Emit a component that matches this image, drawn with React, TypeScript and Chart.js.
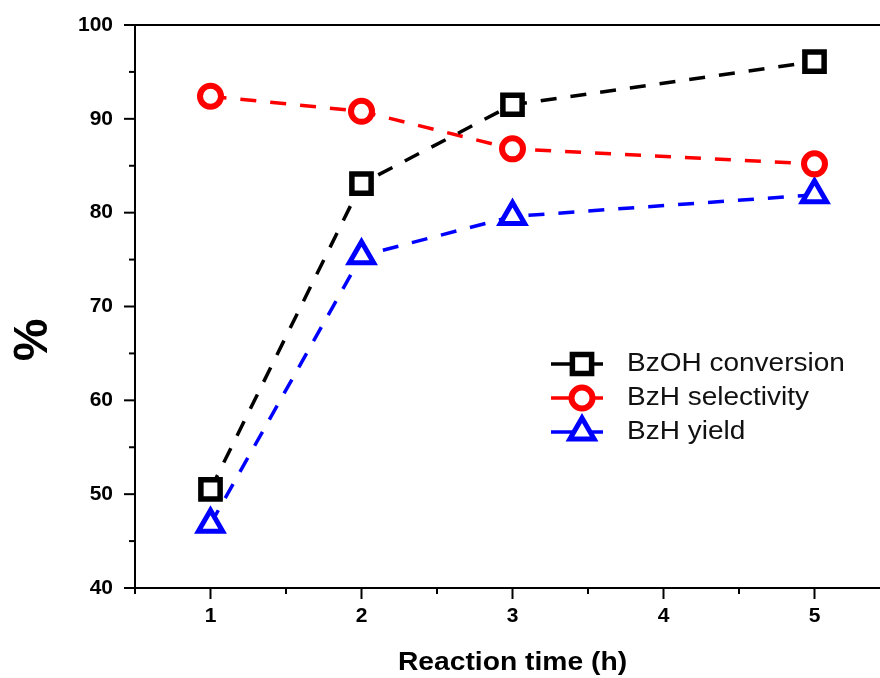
import React, { useEffect, useRef } from 'react';
import { Chart, registerables } from 'chart.js';

Chart.register(...registerables);

// ---- data ----
const times = [1, 2, 3, 5];
const conversion = [50.5, 83.1, 91.5, 96.1];
const selectivity = [92.4, 90.8, 86.8, 85.2];
const yieldValues = [46.8, 75.4, 79.6, 81.9];
const seriesNames = ['BzOH conversion', 'BzH selectivity', 'BzH yield'];
const seriesColors = ['#000000', '#ff0000', '#0000ff'];
const seriesShapes = ['rect', 'circle', 'triangle'];
const xTitle = 'Reaction time (h)';
const yTitle = '%';
const xRange = [0.5, 5.5];
const yRange = [40, 100];

const FONT = '"Liberation Sans", Arial, Helvetica, sans-serif';
const radii: Record<string, number> = { rect: 13.6, circle: 10.5, triangle: 14 };
const widths: Record<string, number> = { rect: 5.5, circle: 6, triangle: 5 };

function drawMarker(ctx: CanvasRenderingContext2D, shape: string, x: number, y: number, color: string) {
  const r = radii[shape];
  ctx.save();
  ctx.lineWidth = widths[shape];
  ctx.strokeStyle = color;
  ctx.fillStyle = '#ffffff';
  ctx.beginPath();
  if (shape === 'rect') {
    const s = Math.SQRT1_2 * r;
    ctx.rect(x - s, y - s, 2 * s, 2 * s);
  } else if (shape === 'circle') {
    ctx.arc(x, y, r, 0, Math.PI * 2);
  } else {
    let a = 0;
    ctx.moveTo(x + Math.sin(a) * r, y - Math.cos(a) * r);
    a += (2 * Math.PI) / 3;
    ctx.lineTo(x + Math.sin(a) * r, y - Math.cos(a) * r);
    a += (2 * Math.PI) / 3;
    ctx.lineTo(x + Math.sin(a) * r, y - Math.cos(a) * r);
    ctx.closePath();
  }
  ctx.fill();
  ctx.stroke();
  ctx.restore();
}

const decorPlugin = {
  id: 'decor',
  afterDraw(chart: any) {
    const { ctx, chartArea: ca, scales } = chart;
    const xs = scales.x;
    const ys = scales.y;
    ctx.save();
    ctx.strokeStyle = '#000';
    ctx.lineWidth = 2;
    // top spine
    ctx.beginPath();
    ctx.moveTo(ca.left - 1, ca.top);
    ctx.lineTo(ca.right + 20, ca.top);
    ctx.stroke();
    // y tick marks (major + minor)
    ys.ticks.forEach((t: any) => {
      const y = ys.getPixelForValue(t.value);
      const len = t.value % 10 === 0 ? 11 : 6;
      ctx.beginPath();
      ctx.moveTo(ca.left - len, y);
      ctx.lineTo(ca.left, y);
      ctx.stroke();
    });
    // x tick marks
    xs.ticks.forEach((t: any) => {
      const x = xs.getPixelForValue(t.value);
      const len = Number.isInteger(t.value) ? 11 : 6;
      ctx.beginPath();
      ctx.moveTo(x, ca.bottom);
      ctx.lineTo(x, ca.bottom + len);
      ctx.stroke();
    });
    // x title
    ctx.fillStyle = '#000';
    ctx.font = `bold 25px ${FONT}`;
    ctx.textAlign = 'center';
    ctx.textBaseline = 'middle';
    ctx.save();
    ctx.translate((ca.left + ca.right) / 2, 663);
    ctx.scale(1.13, 1);
    ctx.fillText(xTitle, 0, 0);
    ctx.restore();
    // y title
    ctx.save();
    ctx.translate(34, 340);
    ctx.rotate(-Math.PI / 2);
    ctx.font = `bold 48px ${FONT}`;
    ctx.fillText(yTitle, 0, 0);
    ctx.restore();
    // legend
    const rowY = [364, 398, 432];
    seriesNames.forEach((name, i) => {
      const y = rowY[i];
      ctx.save();
      ctx.strokeStyle = seriesColors[i];
      ctx.lineWidth = 3.5;
      ctx.beginPath();
      ctx.moveTo(551, y);
      ctx.lineTo(603, y);
      ctx.stroke();
      ctx.restore();
      drawMarker(ctx, seriesShapes[i], 582, y, seriesColors[i]);
      ctx.save();
      ctx.translate(627, y);
      ctx.scale(1.12, 1);
      ctx.font = `25px ${FONT}`;
      ctx.textAlign = 'left';
      ctx.textBaseline = 'middle';
      ctx.fillStyle = '#111';
      ctx.fillText(name, 0, 0);
      ctx.restore();
    });
    ctx.restore();
  },
};

function makeDataset(label: string, values: number[], idx: number) {
  return {
    label,
    data: times.map((t, i) => ({ x: t, y: values[i] })),
    borderColor: seriesColors[idx],
    backgroundColor: '#ffffff',
    borderWidth: 3.5,
    borderDash: [16, 14],
    pointStyle: seriesShapes[idx] as any,
    pointRadius: radii[seriesShapes[idx]],
    pointHoverRadius: radii[seriesShapes[idx]],
    pointBorderWidth: widths[seriesShapes[idx]],
    pointBorderColor: seriesColors[idx],
    pointBackgroundColor: '#ffffff',
    tension: 0,
    fill: false,
  };
}

export default function App() {
  const ref = useRef<HTMLCanvasElement | null>(null);
  useEffect(() => {
    if (!ref.current) return;
    const chart = new Chart(ref.current, {
      type: 'line',
      data: {
        datasets: [
          makeDataset(seriesNames[0], conversion, 0),
          makeDataset(seriesNames[1], selectivity, 1),
          makeDataset(seriesNames[2], yieldValues, 2),
        ],
      },
      options: {
        responsive: false,
        animation: false,
        devicePixelRatio: 1,
        layout: { autoPadding: false, padding: { top: 25, right: 10, left: 0, bottom: 0 } },
        plugins: {
          legend: { display: false },
          tooltip: { enabled: false },
        },
        scales: {
          x: {
            type: 'linear',
            min: xRange[0],
            max: xRange[1],
            grid: { display: false, drawTicks: false },
            border: { display: true, color: '#000', width: 2 },
            ticks: {
              stepSize: 0.5,
              padding: 16,
              color: '#000',
              font: { family: FONT, size: 21, weight: 'bold' },
              maxRotation: 0,
              autoSkip: false,
              callback: (v: any) => (Number.isInteger(v) ? String(v) : ''),
            },
            afterFit: (s: any) => {
              s.height = 90;
              s.paddingLeft = 0;
              s.paddingRight = 0;
            },
          },
          y: {
            type: 'linear',
            min: yRange[0],
            max: yRange[1],
            grid: { display: false, drawTicks: false },
            border: { display: true, color: '#000', width: 2 },
            ticks: {
              stepSize: 5,
              padding: 22,
              color: '#000',
              font: { family: FONT, size: 21, weight: 'bold' },
              autoSkip: false,
              callback: (v: any) => (v % 10 === 0 ? String(v) : ''),
            },
            afterFit: (s: any) => {
              s.width = 135;
              s.paddingTop = 0;
              s.paddingBottom = 0;
            },
          },
        },
      } as any,
      plugins: [decorPlugin],
    });
    return () => chart.destroy();
  }, []);
  return (
    <div
      style={{
        position: 'fixed',
        left: 0,
        top: 0,
        width: 880,
        height: 678,
        overflow: 'hidden',
        background: '#ffffff',
      }}
    >
      <canvas ref={ref} width={900} height={678} style={{ width: 900, height: 678, display: 'block' }} />
    </div>
  );
}
